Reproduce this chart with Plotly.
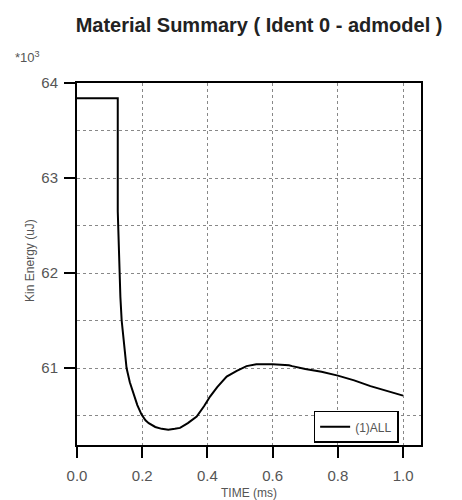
import plotly.graph_objects as go

time_ms = [0.0, 0.125, 0.125, 0.127, 0.129, 0.133, 0.137, 0.145, 0.152, 0.162, 0.172,
           0.185, 0.198, 0.21, 0.22, 0.24, 0.26, 0.28, 0.30, 0.316, 0.34, 0.367, 0.39,
           0.408, 0.43, 0.459, 0.49, 0.52, 0.55, 0.6, 0.65, 0.66, 0.7, 0.75, 0.8,
           0.85, 0.9, 0.95, 1.0]
kin_energy = [63.84, 63.84, 62.65, 62.4, 62.0, 61.75, 61.5, 61.22, 61.0, 60.85, 60.74,
              60.61, 60.51, 60.45, 60.42, 60.38, 60.36, 60.35, 60.36, 60.37, 60.42, 60.49, 60.6,
              60.70, 60.8, 60.91, 60.97, 61.02, 61.04, 61.04, 61.03, 61.02, 60.99, 60.96,
              60.92, 60.87, 60.81, 60.76, 60.71]
series_name = "(1)ALL"
x_ticks = [0.0, 0.2, 0.4, 0.6, 0.8, 1.0]
y_ticks = [61, 62, 63, 64]
y_minor = [60.5, 61.5, 62.5, 63.5]

fig = go.Figure()
fig.add_trace(go.Scatter(x=time_ms, y=kin_energy, mode="lines", name=series_name,
                         line=dict(color="black", width=2), showlegend=True))

font = "Liberation Sans, Arial, sans-serif"
grey = "#555"
fig.update_layout(
    width=454, height=492,
    margin=dict(l=69, r=41, t=75, b=55),
    paper_bgcolor="white", plot_bgcolor="white",
    title=dict(text="<b>Material Summary ( Ident 0 - admodel )</b>", x=0.553, xanchor="center",
               y=0.965, yanchor="middle", font=dict(family=font, size=20, color="#222")),
    showlegend=True,
    legend=dict(x=0.935, y=0.006, xanchor="right", yanchor="bottom", bgcolor="white",
                bordercolor="black", borderwidth=1.5, font=dict(family=font, size=12, color=grey),
                itemwidth=30, tracegroupgap=0),
    font=dict(family=font),
)
fig.update_xaxes(range=[0, 1.055], tickvals=x_ticks, ticktext=[f"{v:.1f}" for v in x_ticks],
                 showline=True, linecolor="black", linewidth=2, mirror=True,
                 ticks="outside", ticklen=11, tickwidth=2, tickcolor="black",
                 ticklabelstandoff=5,
                 showgrid=True, gridcolor="#888", griddash="dot", gridwidth=1,
                 tickfont=dict(family=font, size=15, color=grey), zeroline=False)
fig.update_yaxes(range=[60.19, 64.0], tickvals=y_ticks,
                 showline=True, linecolor="black", linewidth=2, mirror=True,
                 ticks="outside", ticklen=11, tickwidth=2, tickcolor="black",
                 ticklabelstandoff=3,
                 showgrid=True, gridcolor="#888", griddash="dot", gridwidth=1,
                 minor=dict(tickvals=y_minor, showgrid=True, gridcolor="#888",
                            griddash="dot", ticks=""),
                 tickfont=dict(family=font, size=15, color=grey), zeroline=False)
fig.add_annotation(text="TIME (ms)", xref="paper", yref="paper", x=0.5, y=-0.133,
                   xanchor="center", yanchor="middle", showarrow=False,
                   font=dict(family=font, size=12, color=grey))
fig.add_annotation(text="Kin Energy (uJ)", xref="paper", yref="paper", x=-0.137, y=0.511,
                   xanchor="center", yanchor="middle", showarrow=False, textangle=-90,
                   font=dict(family=font, size=12, color=grey))
fig.add_annotation(text="*10<sup>3</sup>", xref="paper", yref="paper", x=-0.186, y=1.072,
                   xanchor="left", yanchor="middle", showarrow=False,
                   font=dict(family=font, size=13, color=grey))
fig.write_html("out.html")
